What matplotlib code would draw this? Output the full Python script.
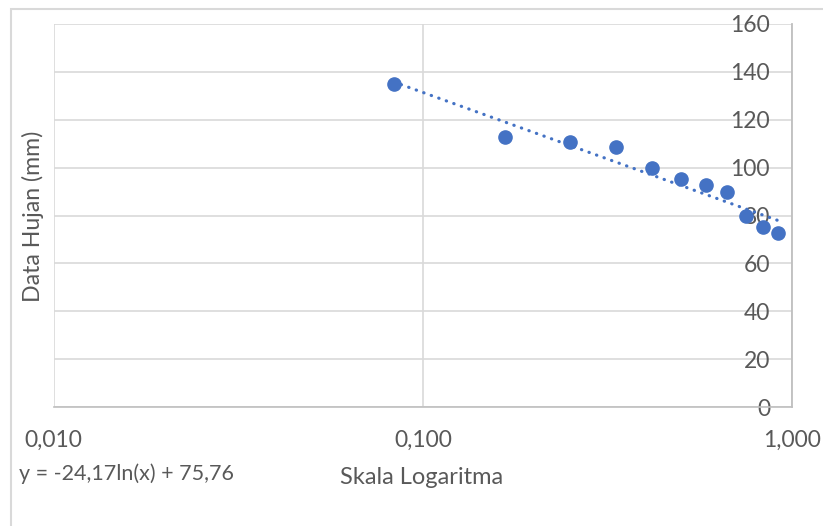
import numpy as np
import matplotlib.pyplot as plt
from matplotlib.patches import Rectangle
from matplotlib.ticker import FixedLocator, FuncFormatter

# data (plotting position m/(n+1), rainfall in mm)
prob = [1/12, 2/12, 3/12, 4/12, 5/12, 6/12, 7/12, 8/12, 9/12, 10/12, 11/12]
rain = [135.0, 112.9, 110.7, 108.5, 99.8, 95.2, 92.6, 89.9, 79.6, 75.0, 72.6]

# log trendline from the chart label: y = a ln(x) + b
trend_a = -24.17
trend_b = 75.76
eq_text = 'y = -24,17ln(x) + 75,76'

x_ticks = [0.01, 0.1, 1.0]
y_ticks = [0, 20, 40, 60, 80, 100, 120, 140, 160]

blue = '#4472C4'
grid_c = '#D9D9D9'
txt_c = '#595959'

plt.rcParams['font.family'] = ['Lato', 'DejaVu Sans']

W, H = 823, 526
fig = plt.figure(figsize=(W / 100, H / 100), dpi=100)

# outer chart border
fig.patches.append(Rectangle((11 / W, -0.1), 1.2, 1.1 - 9.5 / H,
                             transform=fig.transFigure, fill=False,
                             edgecolor=grid_c, linewidth=1.5))

ax = fig.add_axes([53.5 / W, 1 - 407 / H, (792.3 - 53.5) / W, (407 - 24) / H])
ax.set_xscale('log')
ax.set_xlim(0.01, 1.0)
ax.set_ylim(0, 160)

ax.xaxis.set_major_locator(FixedLocator(x_ticks))
ax.xaxis.set_minor_locator(FixedLocator([]))
ax.xaxis.set_major_formatter(FuncFormatter(lambda v, p: f'{v:.3f}'.replace('.', ',')))
ax.yaxis.set_major_locator(FixedLocator(y_ticks))

ax.grid(True, color=grid_c, linewidth=1.2)
ax.set_axisbelow(True)
for s in ['top', 'left']:
    ax.spines[s].set_visible(False)
ax.spines['right'].set_color('#BFBFBF')
ax.spines['right'].set_linewidth(1.3)
ax.spines['bottom'].set_color('#BFBFBF')
ax.spines['bottom'].set_linewidth(1.2)

ax.tick_params(axis='both', length=0, labelsize=16.5, labelcolor=txt_c)
ax.tick_params(axis='x', pad=16.5)
ax.tick_params(axis='y', labelleft=False, labelright=True, pad=-16)
for lab in ax.get_yticklabels():
    lab.set_horizontalalignment('right')

# trendline
xt = np.logspace(np.log10(prob[0]), np.log10(prob[-1]), 200)
ax.plot(xt, trend_a * np.log(xt) + trend_b, color=blue, linewidth=2.3,
        linestyle=(0, (0.1, 2.4)), dash_capstyle='round', zorder=3)

ax.plot(prob, rain, 'o', color=blue, markersize=9.5, zorder=4, clip_on=False)

fig.text(422 / W, 1 - 477 / H, 'Skala Logaritma', ha='center', va='center',
         fontsize=17, color=txt_c)
fig.text(33 / W, 1 - 216 / H, 'Data Hujan (mm)', ha='center', va='center',
         rotation=90, fontsize=16.7, color=txt_c)
fig.text(19 / W, 1 - 474 / H, eq_text, ha='left', va='center',
         fontsize=15.5, color=txt_c)

fig.savefig('out.png', dpi=100)
